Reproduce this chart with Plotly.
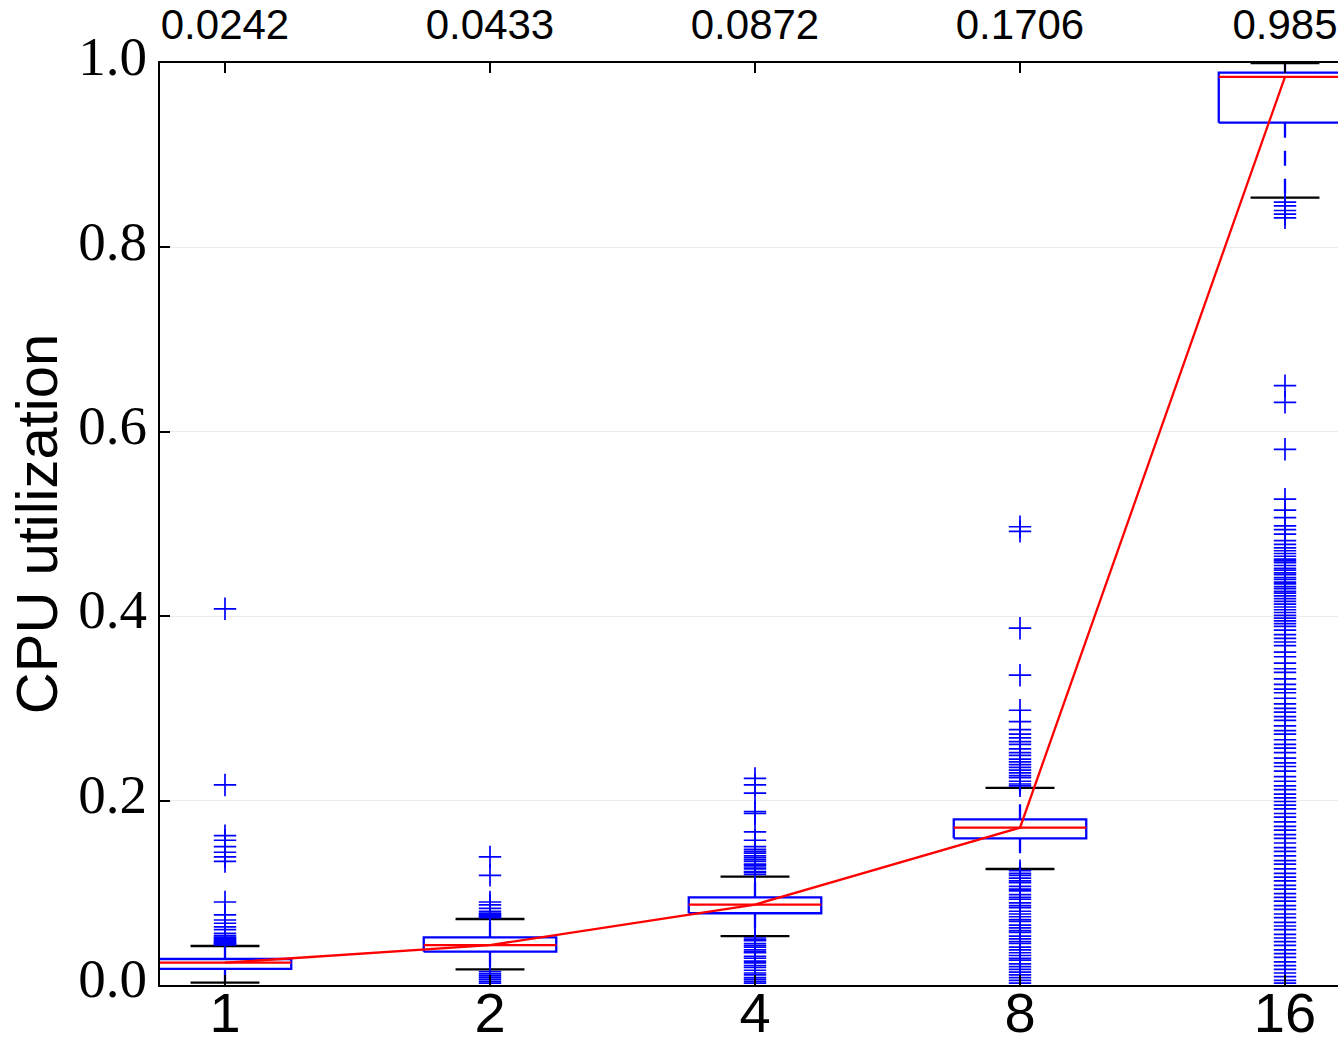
import plotly.graph_objects as go

categories = ["1", "2", "4", "8", "16"]
medians = [0.0242, 0.0433, 0.0872, 0.1706, 0.985]
q1 = [0.0174, 0.0361, 0.0778, 0.1591, 0.9353]
q3 = [0.0282, 0.0517, 0.0951, 0.1797, 0.9895]
whisker_low = [0.0025, 0.0170, 0.0531, 0.1258, 0.8540]
whisker_high = [0.0423, 0.0716, 0.1175, 0.2137, 1.0000]

outliers_1 = [0.408, 0.217, 0.162, 0.157, 0.150, 0.144, 0.139, 0.134, 0.090, 0.076,
              0.0705, 0.067, 0.063, 0.060, 0.056, 0.0535, 0.052, 0.051, 0.050, 0.049,
              0.048, 0.047, 0.046, 0.0455, 0.045, 0.044, 0.0435]
outliers_2 = [0.139, 0.119, 0.090, 0.087, 0.083, 0.080, 0.078, 0.077, 0.076, 0.075,
              0.074, 0.073, 0.0145, 0.012, 0.010, 0.008, 0.006, 0.004, 0.002]
outliers_4 = [0.224, 0.217, 0.208, 0.188, 0.186, 0.166, 0.157, 0.150, 0.147, 0.145,
              0.143, 0.140, 0.138, 0.136, 0.134, 0.131, 0.130, 0.128, 0.126, 0.123,
              0.122, 0.120,
              0.051, 0.049, 0.048, 0.045, 0.043, 0.041, 0.038, 0.036, 0.035, 0.031,
              0.029, 0.026, 0.024, 0.021, 0.019, 0.016, 0.013, 0.011, 0.008, 0.006,
              0.004, 0.002]
outliers_8 = [0.497, 0.492, 0.387, 0.336, 0.298, 0.2856, 0.277, 0.272, 0.268, 0.264,
              0.261, 0.256, 0.252, 0.249, 0.245, 0.242, 0.239, 0.236, 0.233, 0.230,
              0.227, 0.225, 0.221, 0.218, 0.216,
              0.124, 0.121, 0.119, 0.116, 0.113, 0.111, 0.107, 0.104, 0.102, 0.098,
              0.095, 0.093, 0.089, 0.086, 0.084, 0.080, 0.077, 0.074, 0.071, 0.069,
              0.065, 0.062, 0.059, 0.057, 0.053, 0.050, 0.047, 0.045, 0.041, 0.038,
              0.035, 0.032, 0.029, 0.027, 0.023, 0.020, 0.017, 0.014, 0.011, 0.008,
              0.005, 0.002]
outliers_16 = [0.849, 0.845, 0.840, 0.836, 0.832,
               0.650, 0.632, 0.581, 0.527, 0.515, 0.507, 0.498, 0.494, 0.489, 0.482,
               0.478, 0.474, 0.471, 0.468, 0.465, 0.462, 0.460, 0.458, 0.455, 0.452,
               0.450, 0.447, 0.445, 0.442, 0.440, 0.437, 0.435, 0.432, 0.430, 0.427,
               0.425, 0.422, 0.419, 0.416, 0.413, 0.410, 0.407, 0.404, 0.401, 0.398,
               0.395, 0.392, 0.389, 0.385, 0.380, 0.376, 0.372, 0.368,
               0.361, 0.356, 0.349, 0.343, 0.339, 0.332, 0.326, 0.321, 0.317, 0.311,
               0.305, 0.300, 0.296, 0.291, 0.287, 0.281, 0.276, 0.272, 0.266, 0.261,
               0.257, 0.252, 0.246, 0.241, 0.237, 0.232, 0.226, 0.221, 0.216, 0.212,
               0.207, 0.203, 0.199, 0.195, 0.191, 0.186, 0.182, 0.177, 0.172, 0.168,
               0.163, 0.159, 0.154, 0.149, 0.145, 0.140, 0.135, 0.131, 0.126, 0.121,
               0.117, 0.113, 0.108, 0.104, 0.099, 0.095, 0.091, 0.086, 0.082, 0.077,
               0.073, 0.068, 0.064, 0.060, 0.055, 0.051, 0.047, 0.043, 0.038, 0.034,
               0.030, 0.025, 0.021, 0.017, 0.013, 0.009, 0.005, 0.002]
outliers = [outliers_1, outliers_2, outliers_4, outliers_8, outliers_16]

y_ticks = [0.0, 0.2, 0.4, 0.6, 0.8, 1.0]

BLUE = "#0000ff"
RED = "#ff0000"
BOX_HALF = 0.25
CAP_HALF = 0.13
LW = 2.3
positions = list(range(1, len(categories) + 1))

fig = go.Figure()

for i, p in enumerate(positions):
    # whiskers (dashed blue)
    for a, b in ((q3[i], whisker_high[i]), (q1[i], whisker_low[i])):
        fig.add_trace(go.Scatter(x=[p, p], y=[a, b], mode="lines",
                                 line=dict(color=BLUE, width=LW, dash="15px,13px"),
                                 hoverinfo="skip"))
    # caps (black)
    for c in (whisker_high[i], whisker_low[i]):
        fig.add_trace(go.Scatter(x=[p - CAP_HALF, p + CAP_HALF], y=[c, c], mode="lines",
                                 line=dict(color="black", width=LW), hoverinfo="skip"))
    # box
    fig.add_trace(go.Scatter(
        x=[p - BOX_HALF, p + BOX_HALF, p + BOX_HALF, p - BOX_HALF, p - BOX_HALF],
        y=[q1[i], q1[i], q3[i], q3[i], q1[i]], mode="lines",
        line=dict(color=BLUE, width=LW), hoverinfo="skip"))
    # median
    fig.add_trace(go.Scatter(x=[p - BOX_HALF, p + BOX_HALF], y=[medians[i], medians[i]],
                             mode="lines", line=dict(color=RED, width=LW), hoverinfo="skip"))
    # outliers
    fig.add_trace(go.Scatter(x=[p] * len(outliers[i]), y=outliers[i], mode="markers",
                             marker=dict(symbol="cross-thin", size=16,
                                         line=dict(color=BLUE, width=1.7)),
                             hoverinfo="skip"))

# median connecting line (on the top axis so the top labels render)
fig.add_trace(go.Scatter(x=positions, y=medians, mode="lines", xaxis="x2",
                         line=dict(color=RED, width=LW), hoverinfo="skip"))

XR = [0.7547, 5.2]
fig.update_layout(
    width=1338, height=1040,
    margin=dict(l=160, r=0, t=63, b=55),
    plot_bgcolor="white", paper_bgcolor="white",
    showlegend=False,
    xaxis=dict(range=XR, tickvals=positions, ticktext=categories, automargin=False,
               ticks="inside", ticklen=10, tickcolor="black", tickwidth=1.5,
               showline=True, linecolor="black", linewidth=2,
               showgrid=False, zeroline=False, ticklabelstandoff=-22,
               tickfont=dict(family="Liberation Sans, Arial, sans-serif", size=56, color="black")),
    xaxis2=dict(range=XR, overlaying="x", side="top", tickvals=positions, automargin=False,
                ticktext=[str(round(m, 4)) for m in medians], ticklabeloverflow="allow",
                ticks="inside", ticklen=10, tickcolor="black", tickwidth=1.5,
                showline=True, linecolor="black", linewidth=2, ticklabelstandoff=5,
                showgrid=False, zeroline=False,
                tickfont=dict(family="Liberation Sans, Arial, sans-serif", size=42, color="black")),
    yaxis=dict(range=[0, 1], tickvals=y_ticks, ticktext=[f"{v:.1f}" for v in y_ticks],
               automargin=False, ticklabelshift=-7,
               ticks="inside", ticklen=10, tickcolor="black", tickwidth=1.5,
               showline=True, linecolor="black", linewidth=2,
               showgrid=True, gridcolor="#ebebeb", gridwidth=1, zeroline=False,
               tickfont=dict(family="Liberation Serif, Times New Roman, serif", size=55, color="black"),
               title=dict(text="CPU utilization",
                          font=dict(family="Liberation Sans, Arial, sans-serif", size=58, color="black"),
                          standoff=2)),
)

fig.write_html("out.html", config={"displayModeBar": False},
               post_script="document.body.style.margin='0';document.body.style.overflow='hidden';")
